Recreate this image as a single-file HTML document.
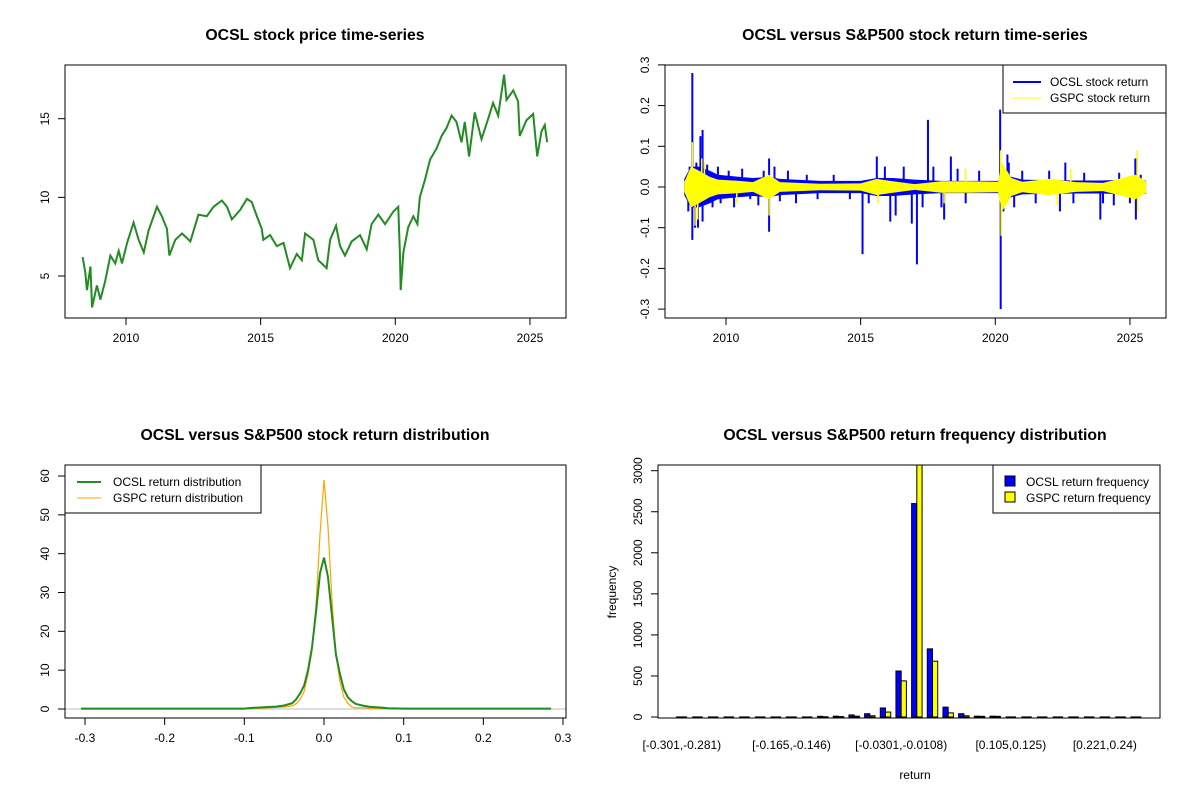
<!DOCTYPE html>
<html><head><meta charset="utf-8">
<style>
body{margin:0;background:#fff;}
svg{display:block;font-family:"Liberation Sans",Arial,sans-serif;}
.t{font-size:15.8px;font-weight:bold;text-anchor:middle}
.tk{font-size:12px}
</style></head>
<body>
<svg id="c" width="1200" height="800" viewBox="0 0 1200 800"></svg>
<script>
// ---------- data ----------
const priceYears=[2008.39,2008.49,2008.55,2008.68,2008.74,2008.92,2009.05,2009.23,2009.42,2009.60,2009.73,2009.85,2010.04,2010.28,2010.47,2010.66,2010.84,2011.15,2011.33,2011.52,2011.61,2011.83,2012.08,2012.39,2012.69,2013.00,2013.25,2013.56,2013.75,2013.93,2014.24,2014.49,2014.67,2014.86,2015.04,2015.10,2015.35,2015.60,2015.85,2016.09,2016.34,2016.53,2016.65,2016.96,2017.14,2017.45,2017.58,2017.80,2017.95,2018.13,2018.38,2018.69,2018.94,2019.12,2019.37,2019.62,2019.93,2020.11,2020.17,2020.20,2020.30,2020.48,2020.67,2020.82,2020.91,2021.10,2021.29,2021.53,2021.72,2021.90,2022.09,2022.27,2022.46,2022.58,2022.74,2022.95,2023.20,2023.45,2023.63,2023.82,2024.04,2024.13,2024.38,2024.56,2024.62,2024.87,2025.12,2025.27,2025.43,2025.55,2025.64];
const priceValues=[6.2,5.2,4.1,5.6,3.0,4.4,3.5,4.7,6.3,5.8,6.6,5.8,7.1,8.4,7.3,6.5,7.9,9.4,8.8,8.0,6.3,7.3,7.7,7.2,8.9,8.8,9.4,9.8,9.4,8.6,9.2,9.9,9.7,8.8,8.0,7.3,7.6,6.9,7.1,5.5,6.4,6.0,7.7,7.3,6.0,5.5,7.3,8.2,6.9,6.3,7.2,7.6,6.7,8.3,8.9,8.3,9.1,9.4,6.5,4.1,6.5,8.1,8.8,8.3,10.0,11.1,12.4,13.1,13.9,14.4,15.2,14.8,13.5,14.8,12.6,15.4,13.7,15.0,16.0,15.2,17.8,16.2,16.8,16.1,13.9,14.9,15.3,12.6,14.2,14.6,13.5];
const priceYTicks=[5,10,15];
const yearTicks=[2010,2015,2020,2025];

const bandYears=[2008.45,2008.7,2009.0,2009.4,2009.7,2010.5,2011.0,2011.6,2012.0,2013.5,2015.0,2015.6,2016.2,2017.0,2018.0,2019.0,2020.1,2020.25,2020.6,2021.0,2022.0,2023.0,2024.0,2025.2,2025.6];
const ocslBand=[0.02,0.05,0.05,0.04,0.03,0.025,0.022,0.025,0.02,0.015,0.015,0.022,0.022,0.018,0.015,0.015,0.015,0.04,0.025,0.018,0.017,0.016,0.016,0.02,0.016];
const gspcBand=[0.012,0.05,0.04,0.025,0.018,0.015,0.012,0.03,0.012,0.008,0.009,0.02,0.014,0.007,0.014,0.014,0.013,0.06,0.022,0.013,0.02,0.012,0.01,0.03,0.014];
const ocslSpikeYears=[2008.75,2008.75,2009.05,2008.96,2009.13,2009.13,2011.6,2011.6,2015.07,2015.6,2016.1,2016.9,2017.09,2017.5,2018.1,2018.35,2020.18,2020.2,2020.45,2022.4,2022.6,2023.9,2024.4,2025.2,2025.22,
 2008.6,2008.65,2008.85,2008.9,2009.3,2009.5,2009.7,2009.8,2010.1,2010.3,2010.6,2010.9,2011.2,2011.4,2011.8,2012.0,2012.3,2012.6,2013.0,2013.4,2014.0,2014.6,2015.3,2015.9,2016.3,2016.6,2017.3,2017.7,2018.0,2018.6,2018.9,2019.4,2020.3,2020.5,2020.7,2021.0,2021.5,2022.0,2022.9,2023.3,2024.0,2024.6,2025.0,2025.4];
const ocslSpikeValues=[0.28,-0.13,0.125,-0.1,0.14,-0.085,0.07,-0.11,-0.165,0.075,-0.085,-0.09,-0.19,0.165,-0.08,0.075,0.19,-0.30,0.08,-0.06,0.06,-0.08,-0.045,0.07,-0.08,
 -0.06,0.05,-0.1,0.06,0.055,-0.05,0.05,-0.04,0.04,-0.05,0.045,-0.03,-0.045,0.04,0.05,-0.035,0.04,-0.04,0.03,-0.03,0.03,-0.03,-0.04,0.05,-0.07,0.05,-0.05,0.05,-0.05,0.045,-0.04,0.04,-0.06,0.06,-0.05,0.04,-0.04,0.04,-0.04,0.035,-0.04,0.035,-0.04,0.03];
const gspcSpikeYears=[2008.75,2008.85,2009.2,2011.6,2020.2,2020.22,2025.27,2025.29,2008.95,2009.1,2010.4,2015.65,2018.1,2018.9,2022.3,2022.8];
const gspcSpikeValues=[0.11,-0.095,0.06,-0.07,0.09,-0.12,0.09,-0.06,-0.08,0.07,-0.04,-0.04,-0.04,0.045,-0.045,0.045];
const retYTicks=[-0.3,-0.2,-0.1,0,0.1,0.2,0.3];

const densX=[-0.305,-0.1,-0.09,-0.08,-0.07,-0.06,-0.05,-0.04,-0.035,-0.03,-0.025,-0.02,-0.015,-0.01,-0.005,0,0.005,0.01,0.015,0.02,0.025,0.03,0.035,0.04,0.05,0.06,0.07,0.08,0.1,0.285];
const ocslDens=[0.1,0.1,0.3,0.4,0.5,0.6,0.9,1.5,2.5,4,6,10,16,25,35,39,34,24,14,9,5,3,2,1.3,0.8,0.5,0.4,0.2,0.1,0.1];
const gspcDens=[0,0,0.1,0.2,0.3,0.4,0.5,0.8,1.3,2.5,4.5,9,15,27,45,59,47,28,14,7,3,1.5,0.5,0.3,0.3,0.2,0.1,0,0,0];
const densXTicks=[-0.3,-0.2,-0.1,0,0.1,0.2,0.3];
const densYTicks=[0,10,20,30,40,50,60];

const binLabels=["[-0.301,-0.281)","[-0.281,-0.262)","[-0.262,-0.243)","[-0.243,-0.223)","[-0.223,-0.204)","[-0.204,-0.185)","[-0.185,-0.165)","[-0.165,-0.146)","[-0.146,-0.127)","[-0.127,-0.107)","[-0.107,-0.0881)","[-0.0881,-0.0688)","[-0.0688,-0.0494)","[-0.0494,-0.0301)","[-0.0301,-0.0108)","[-0.0108,0.00856)","[0.00856,0.0279)","[0.0279,0.0472)","[0.0472,0.0665)","[0.0665,0.0859)","[0.0859,0.105)","[0.105,0.125)","[0.125,0.144)","[0.144,0.163)","[0.163,0.182)","[0.182,0.202)","[0.202,0.221)","[0.221,0.24)","[0.24,0.26)","[0.26,0.279)"];
const ocslFreq=[1,0,0,0,0,0,0,1,0,8,10,25,40,110,560,2600,830,120,40,10,10,0,0,0,0,0,0,0,0,1];
const gspcFreq=[0,0,0,0,0,0,0,0,0,3,5,10,15,60,440,3300,680,50,15,8,8,0,0,0,0,0,0,0,0,0];
const shownBins=[0,7,14,21,27];
const freqYTicks=[0,500,1000,1500,2000,2500,3000];

// ---------- helpers ----------
const NS="http://www.w3.org/2000/svg";
const svg=document.getElementById('c');
function mk(tag,attrs,parent,text){const e=document.createElementNS(NS,tag);for(const k in attrs)e.setAttribute(k,attrs[k]);if(text!==undefined)e.textContent=text;(parent||svg).appendChild(e);return e;}
function grp(name){const g=mk('g',{});return g;}
function box(g,x0,y0,x1,y1,name){const r=mk('rect',{x:x0,y:y0,width:x1-x0,height:y1-y0,fill:'none',stroke:'#000','stroke-width':1},g);}
function xTicks(g,vals,fx,y,labels,name){const a=grp(name);g.appendChild(a);const xs=vals.map(fx);
 mk('line',{x1:xs[0],x2:xs[xs.length-1],y1:y,y2:y,stroke:'#000'},a);
 vals.forEach((v,i)=>{mk('line',{x1:xs[i],x2:xs[i],y1:y,y2:y+7,stroke:'#000'},a);const t=mk('text',{x:xs[i],y:y+24,'text-anchor':'middle',class:'tk'},a,labels?labels[i]:String(v));});}
function yTicks(g,vals,fy,x,labels,name){const a=grp(name);g.appendChild(a);const ys=vals.map(fy);
 mk('line',{x1:x,x2:x,y1:ys[0],y2:ys[ys.length-1],stroke:'#000'},a);
 vals.forEach((v,i)=>{mk('line',{x1:x-7,x2:x,y1:ys[i],y2:ys[i],stroke:'#000'},a);const tx=x-16;const t=mk('text',{x:tx,y:ys[i],'text-anchor':'middle',class:'tk',transform:`rotate(-90 ${tx} ${ys[i]})`},a,labels?labels[i]:String(v));});}
function title(x,y,s,name){const t=mk('text',{x:x,y:y,class:'t'},svg,s);}
function fmt(v){if(v===0)return '0.0';return v.toFixed(1);}

// ---------- panel 1 ----------
{const g=grp('price-panel');svg.appendChild(g);
 const X=y=>126+(y-2010)*26.93, Y=p=>276-(p-5)*15.73;
 const pts=priceYears.map((y,i)=>X(y)+','+Y(priceValues[i])).join(' ');
 const l=mk('polyline',{points:pts,fill:'none',stroke:'#228B22','stroke-width':2},g);
 
 box(g,65,65,566,318,'price-plot-box');
 xTicks(g,yearTicks,X,318,null,'price-x-axis');
 yTicks(g,priceYTicks,Y,65,null,'price-y-axis');
 title(315,40,'OCSL stock price time-series','price-title');}

// ---------- panel 2 ----------
{const g=grp('return-panel');svg.appendChild(g);
 const X=y=>726+(y-2010)*26.93, Y=v=>187-v*407;
 function band(arr,col,name){const top=bandYears.map((y,i)=>X(y)+','+Y(arr[i]));const bot=bandYears.map((y,i)=>X(y)+','+Y(-arr[i])).reverse();
  const p=mk('polygon',{points:top.concat(bot).join(' '),fill:col,stroke:'none'},g);}
 function spikes(ys,vs,col,w,name){const a=grp(name);g.appendChild(a);ys.forEach((y,i)=>{const s=mk('line',{x1:X(y),x2:X(y),y1:Y(0),y2:Y(vs[i]),stroke:col,'stroke-width':w},a);});}
 band(ocslBand,'#0000FF','ocsl-return-band');
 spikes(ocslSpikeYears,ocslSpikeValues,'#0000FF',2,'ocsl-return-spikes');
 band(gspcBand,'#FFFF00','gspc-return-band');
 spikes(gspcSpikeYears,gspcSpikeValues,'#FFFF00',1.5,'gspc-return-spikes');
 box(g,665,65,1166,318,'return-plot-box');
 xTicks(g,yearTicks,X,318,null,'return-x-axis');
 yTicks(g,retYTicks,Y,665,retYTicks.map(fmt),'return-y-axis');
 title(915,40,'OCSL versus S&P500 stock return time-series','return-title');
 const lg=grp('return-legend');g.appendChild(lg);
 mk('rect',{x:1003,y:65,width:163,height:48,fill:'#fff',stroke:'#000'},lg);
 mk('line',{x1:1013,x2:1041,y1:82,y2:82,stroke:'#0000FF','stroke-width':2},lg);
 mk('line',{x1:1013,x2:1041,y1:98,y2:98,stroke:'#FFFF00','stroke-width':1},lg);
 mk('text',{x:1050,y:86,class:'tk'},lg,'OCSL stock return');
 mk('text',{x:1050,y:102,class:'tk'},lg,'GSPC stock return');}

// ---------- panel 3 ----------
{const g=grp('density-panel');svg.appendChild(g);
 const X=v=>324+v*796.7, Y=d=>709-d*3.883;
 const base=mk('line',{x1:65,x2:566,y1:Y(0),y2:Y(0),stroke:'#bebebe'},g);
 const lo=mk('polyline',{points:densX.map((x,i)=>X(x)+','+Y(gspcDens[i])).join(' '),fill:'none',stroke:'#FFA500','stroke-width':1.2},g);
 
 const lg2=mk('polyline',{points:densX.map((x,i)=>X(x)+','+Y(ocslDens[i])).join(' '),fill:'none',stroke:'#228B22','stroke-width':2},g);
 
 box(g,65,465,566,718,'density-plot-box');
 xTicks(g,densXTicks,X,718,densXTicks.map(fmt),'density-x-axis');
 yTicks(g,densYTicks,Y,65,null,'density-y-axis');
 title(315,440,'OCSL versus S&P500 stock return distribution','density-title');
 const lg=grp('density-legend');g.appendChild(lg);
 mk('rect',{x:65,y:465,width:196,height:48,fill:'#fff',stroke:'#000'},lg);
 mk('line',{x1:77,x2:101,y1:482,y2:482,stroke:'#228B22','stroke-width':2},lg);
 mk('line',{x1:77,x2:101,y1:498,y2:498,stroke:'#FFA500','stroke-width':1},lg);
 mk('text',{x:113,y:486,class:'tk'},lg,'OCSL return distribution');
 mk('text',{x:113,y:502,class:'tk'},lg,'GSPC return distribution');}

// ---------- panel 4 ----------
{const g=grp('frequency-panel');svg.appendChild(g);
 const L=658,W=502;
 const U=u=>L+(u+2.56)*W/96.12, Y=f=>717-f*0.0821;
 const defs=mk('defs',{},svg);const clip=mk('clipPath',{id:'cp'},defs);mk('rect',{x:658,y:465,width:502,height:253},clip);
 const bars=grp('frequency-bars');bars.setAttribute('clip-path','url(#cp)');g.appendChild(bars);
 function bar(u,v,col,name){
  if(v<=0){const l=mk('line',{x1:U(u),x2:U(u+1),y1:Y(0),y2:Y(0),stroke:'#000','stroke-width':1.2},bars);return;}
  const b=mk('rect',{x:U(u),y:Y(v),width:U(u+1)-U(u),height:Y(0)-Y(v),fill:col,stroke:'#000','stroke-width':1},bars);
  }
 binLabels.forEach((b,i)=>{const u=1+3*i;bar(u,ocslFreq[i],'#0000FF','ocsl-freq-bar');bar(u+1,gspcFreq[i],'#FFFF00','gspc-freq-bar');});
 box(g,658,465,1160,718,'frequency-plot-box');
 const xl=grp('frequency-x-labels');g.appendChild(xl);
 shownBins.forEach(i=>{const t=mk('text',{x:U(2+3*i),y:749,'text-anchor':'middle',class:'tk'},xl,binLabels[i]);});
 yTicks(g,freqYTicks,Y,658,null,'frequency-y-axis');
 title(915,440,'OCSL versus S&P500 return frequency distribution','frequency-title');
 const xt=mk('text',{x:915,y:779,'text-anchor':'middle',class:'tk'},g,'return');
 const yt=mk('text',{x:616,y:592,'text-anchor':'middle',class:'tk',transform:'rotate(-90 616 592)'},g,'frequency');
 const lg=grp('frequency-legend');g.appendChild(lg);
 mk('rect',{x:993,y:465,width:167,height:48,fill:'#fff',stroke:'#000'},lg);
 mk('rect',{x:1005,y:476,width:10,height:10,fill:'#0000FF',stroke:'#000'},lg);
 mk('rect',{x:1005,y:492,width:10,height:10,fill:'#FFFF00',stroke:'#000'},lg);
 mk('text',{x:1026,y:486,class:'tk'},lg,'OCSL return frequency');
 mk('text',{x:1026,y:502,class:'tk'},lg,'GSPC return frequency');}
</script>
</body></html>
